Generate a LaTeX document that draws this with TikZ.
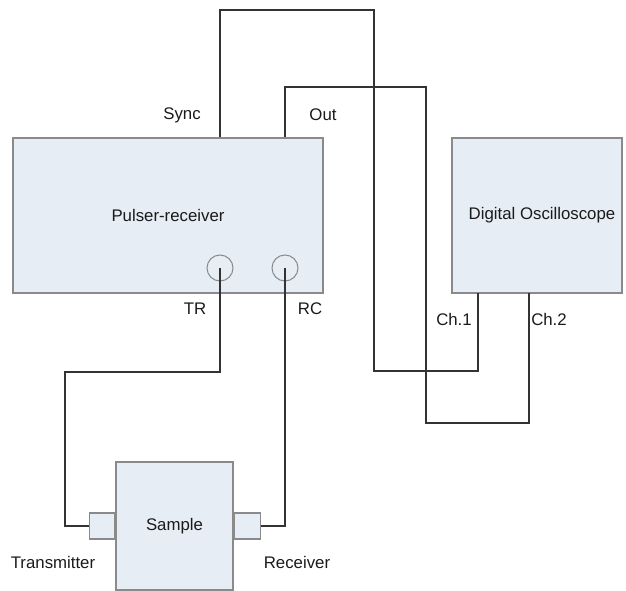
\documentclass[tikz,border=0pt]{standalone}
\usepackage{fontspec}
\setmainfont{Liberation Sans}
\usetikzlibrary{positioning}

\definecolor{boxfill}{HTML}{E7EDF5}
\definecolor{boxline}{HTML}{8A8A8A}
\definecolor{wirecol}{HTML}{333333}
\definecolor{txtcol}{HTML}{1A1A1A}

\begin{document}
\begin{tikzpicture}[
  x=1pt, y=-1pt,
  every node/.style={font=\fontsize{16.8}{20}\selectfont, text=txtcol},
  box/.style={draw=boxline, fill=boxfill, line width=1.2pt, inner sep=0pt},
  port/.style={draw=boxline, circle, line width=1pt, minimum size=26pt, inner sep=0pt},
  wire/.style={draw=wirecol, line width=1.3pt},
  lbl/.style={inner sep=0pt}
]
\useasboundingbox (0,0) rectangle (626,591);

% instruments
\node[box, minimum width=310pt, minimum height=155pt] (pulser) at (168,215.5) {Pulser-receiver};
\node[box, minimum width=170pt, minimum height=155pt] (scope) at (537,215.5) {\hspace{10pt}Digital Oscilloscope};

% sample with transducers
\node[box, minimum width=117pt, minimum height=128pt] (sample) at (174.5,526) {Sample};
\node[box, minimum width=25pt, minimum height=26pt, left=0pt of sample] (tx) {};
\node[box, minimum width=26pt, minimum height=26pt, right=0pt of sample] (rx) {};

% connectors on the pulser-receiver
\node[port] (tr) at (220,268) {};
\node[port] (rc) at (285,268) {};

\coordinate (sync) at (pulser.north -| tr);
\coordinate (out) at (pulser.north -| rc);
\coordinate (ch1) at (478,293);
\coordinate (ch2) at (529,293);

% cables
\draw[wire] (sync) |- (374,10) -- (374,371) -| (ch1);
\draw[wire] (out) |- (426,87) -- (426,423) -| (ch2);
\draw[wire] (tr.center) |- (65,372) |- (tx.west);
\draw[wire] (rx.east) -| (rc.center);

% labels
\node[lbl] (synclbl) at (182,115) {Sync};
\node[lbl] (outlbl) at (323,115) {Out};
\node[lbl] (trlbl) at (195,309) {TR};
\node[lbl] (rclbl) at (310,309) {RC};
\node[lbl] (ch1lbl) at (454,319) {Ch.1};
\node[lbl] (ch2lbl) at (549,319) {Ch.2};
\node[lbl] (txlbl) at (53,562) {Transmitter};
\node[lbl] (rxlbl) at (297,562) {Receiver};

\end{tikzpicture}
\end{document}
